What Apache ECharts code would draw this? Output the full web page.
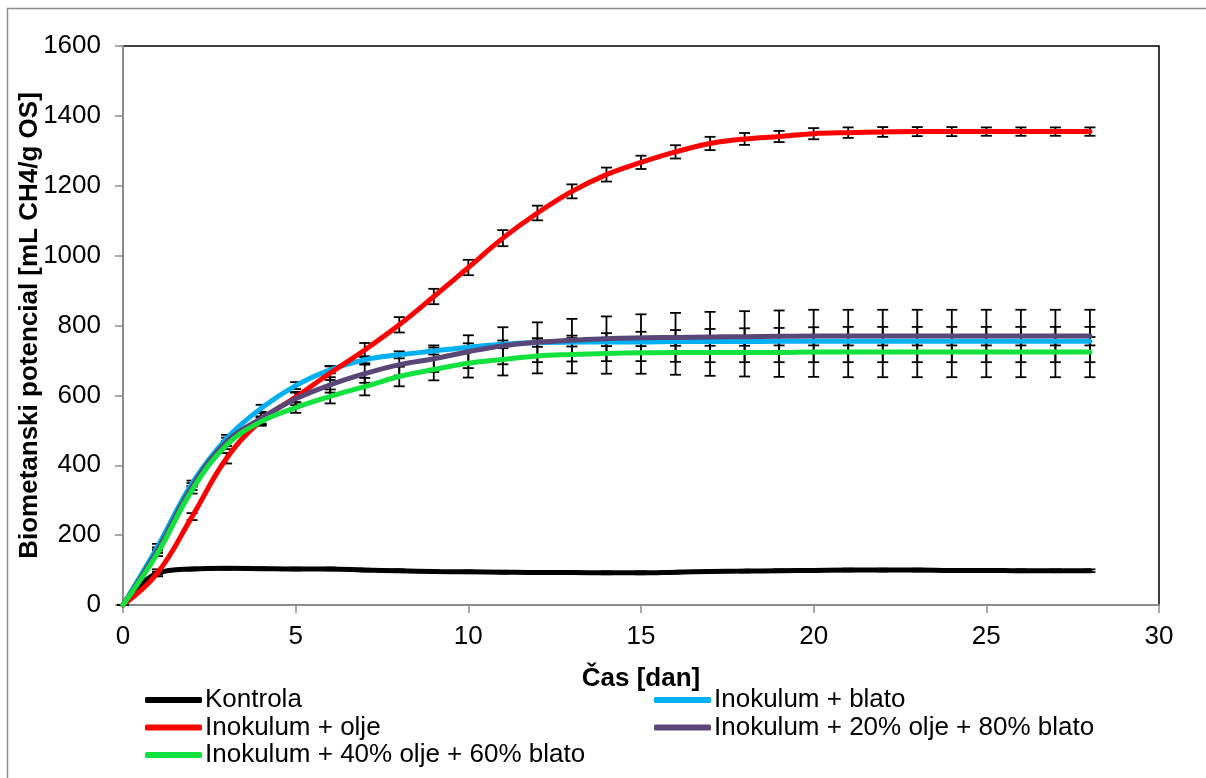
<!DOCTYPE html>
<html>
<head>
<meta charset="utf-8">
<script src="https://cdn.jsdelivr.net/npm/echarts@6/dist/echarts.min.js"></script>
<style>
html,body{margin:0;padding:0;background:#fff;}
#chart{width:1206px;height:778px;}
</style>
</head>
<body>
<div id="chart"></div>
<script>
var days = [0,1,2,3,4,5,6,7,8,9,10,11,12,13,14,15,16,17,18,19,20,21,22,23,24,25,26,27,28];
var seriesNames = ['Kontrola','Inokulum + blato','Inokulum + olje','Inokulum + 20% olje + 80% blato','Inokulum + 40% olje + 60% blato'];
var kontrola = [0,91,103,105,104,103,103,100,98,96,95,94,93,93,92,92,94,96,97,98,99,100,100,100,99,99,98,98,98];
var kontrolaErr = [0,4,4,4,4,4,4,4,4,4,4,4,4,4,4,4,4,4,4,4,4,4,4,4,4,4,4,4,4];
var blato = [0,167,348,477,563,628,673,702,716,727,738,746,751,752,753,753,754,754,754,755,755,755,755,755,755,755,755,755,755];
var blatoErr = [0,8,8,10,10,10,10,10,10,10,11,11,12,12,12,12,12,12,12,12,12,12,12,12,12,12,12,12,12];
var olje = [0,92,253,420,528,595,664,730,802,883,966,1050,1122,1184,1232,1267,1297,1321,1334,1341,1349,1352,1354,1355,1355,1355,1355,1355,1355];
var oljeErr = [0,10,10,15,12,15,20,20,22,22,22,23,21,20,20,19,19,19,17,16,16,15,14,13,13,12,12,12,12];
var olje20 = [0,157,339,467,534,590,630,662,688,705,725,742,752,758,762,765,766,767,768,769,770,770,770,770,770,770,770,770,770];
var olje20Err = [0,8,10,12,15,18,22,26,31,38,47,53,57,61,64,67,70,72,73,74,75,75,75,75,75,75,75,75,75];
var olje40 = [0,148,329,458,525,565,597,625,654,674,692,703,713,717,720,722,723,723,723,723,724,724,724,724,724,724,724,724,724];
var olje40Err = [0,8,10,12,12,15,20,25,28,31,41,46,50,54,58,60,64,67,69,70,71,72,72,72,72,72,72,72,72];
var xTicks = [0,5,10,15,20,25,30];
var yTicks = [0,200,400,600,800,1000,1200,1400,1600];

var colors = ['#000000','#00B0F0','#FF0000','#5A4677','#12E23E'];
var values = [kontrola, blato, olje, olje20, olje40];
var errs = [kontrolaErr, blatoErr, oljeErr, olje20Err, olje40Err];

var FONT = "'Liberation Sans', Arial, sans-serif";
var FS = 26;

function pairs(v){ return days.map(function(d,i){ return [d, v[i]]; }); }
function errData(v,e){ return days.map(function(d,i){ return [d, v[i]-e[i], v[i]+e[i]]; }); }

function renderErr(params, api){
  var x = api.value(0);
  var lo = api.coord([x, api.value(1)]);
  var hi = api.coord([x, api.value(2)]);
  var hw = 5.5;
  var st = {stroke:'#000', lineWidth:1.8};
  return {type:'group', children:[
    {type:'line', shape:{x1:lo[0], y1:lo[1], x2:hi[0], y2:hi[1]}, style:st},
    {type:'line', shape:{x1:lo[0]-hw, y1:lo[1], x2:lo[0]+hw, y2:lo[1]}, style:st},
    {type:'line', shape:{x1:hi[0]-hw, y1:hi[1], x2:hi[0]+hw, y2:hi[1]}, style:st}
  ]};
}

var series = [];
for (var i=0;i<values.length;i++){
  series.push({
    type:'custom', name: seriesNames[i]+' err', renderItem: renderErr,
    data: errData(values[i], errs[i]), z: 2, silent:true,
    encode:{x:0, y:[1,2]}
  });
}
for (var j=0;j<values.length;j++){
  series.push({
    type:'line', name: seriesNames[j], data: pairs(values[j]), smooth:0.4,
    showSymbol:false, symbol:'none', z: 3+j,
    lineStyle:{color:colors[j], width:5, cap:'round'},
    itemStyle:{color:colors[j]}
  });
}

var legendCommon = {
  orient:'vertical', icon:'roundRect', itemWidth:57, itemHeight:6, itemGap:1.5,
  textStyle:{fontFamily:FONT, fontSize:FS, lineHeight:26, color:'#000', padding:[0,0,0,-2]},
  selectedMode:false
};

var option = {
  backgroundColor:'#fff',
  animation:false,
  color: colors,
  graphic:[{type:'rect', shape:{x:7.5, y:8.5, width:1300, height:900}, style:{fill:'none', stroke:'#8c8c8c', lineWidth:1.5}, z:0}],
  grid:{left:123, right:47, top:46, bottom:173, show:true, borderColor:'#000', borderWidth:1.5, backgroundColor:'transparent'},
  legend:[
    Object.assign({}, legendCommon, {left:140, top:682, data:[seriesNames[0], seriesNames[2], seriesNames[4]]}),
    Object.assign({}, legendCommon, {left:649, top:682, data:[seriesNames[1], seriesNames[3]]})
  ],
  xAxis:{
    type:'value', min:0, max:30, interval:5,
    name:'Čas [dan]', nameLocation:'middle', nameGap:61,
    nameTextStyle:{fontFamily:FONT, fontSize:FS, fontWeight:'bold', color:'#000'},
    axisLine:{show:true, onZero:false, lineStyle:{color:'#8c8c8c', width:2}},
    axisTick:{show:true, inside:false, length:8, lineStyle:{color:'#8c8c8c', width:1.5}},
    axisLabel:{fontFamily:FONT, fontSize:FS, color:'#000', margin:19,
      formatter:function(v){ return xTicks.indexOf(v)>=0 ? String(v) : ''; }},
    splitLine:{show:false}
  },
  yAxis:{
    type:'value', min:0, max:1600, interval:200,
    name:'Biometanski potencial [mL CH4/g OS]', nameLocation:'middle', nameGap:80, nameRotate:90,
    nameMoveOverlap:false,
    nameTextStyle:{fontFamily:FONT, fontSize:FS, fontWeight:'bold', color:'#000'},
    axisLine:{show:true, onZero:false, lineStyle:{color:'#8c8c8c', width:2}},
    axisTick:{show:true, inside:false, length:8, lineStyle:{color:'#8c8c8c', width:1.5}},
    axisLabel:{fontFamily:FONT, fontSize:FS, color:'#000', margin:22,
      formatter:function(v){ return yTicks.indexOf(v)>=0 ? String(v) : ''; }},
    splitLine:{show:false}
  },
  series: series
};

var chart = echarts.init(document.getElementById('chart'), null, {renderer:'canvas'});
chart.setOption(option);
</script>
</body>
</html>
